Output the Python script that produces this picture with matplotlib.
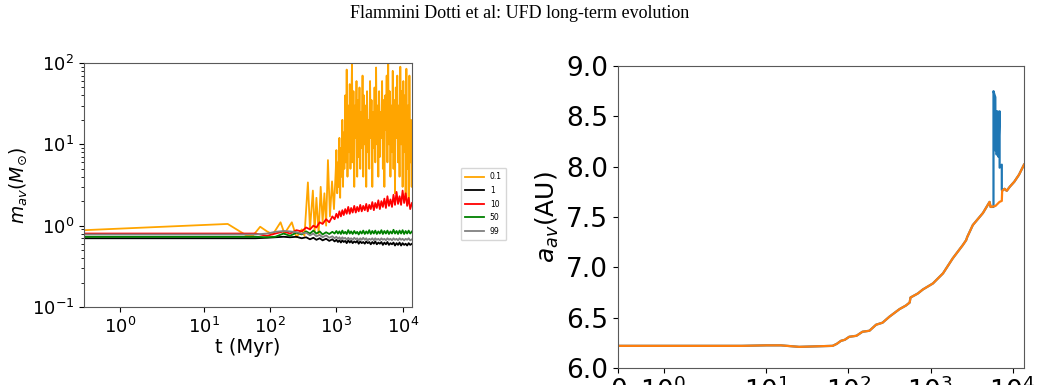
import matplotlib
matplotlib.use("Agg")
import matplotlib.pyplot as plt
from matplotlib.ticker import NullLocator, FormatStrFormatter

# left panel: average mass vs time, one line per mass fraction
t_orange = [0.01, 23, 45, 55, 71, 90, 110, 144, 165, 213, 250, 300, 330, 372, 400, 442, 470, 500,
            540, 580, 620, 660, 700, 746, 800, 860, 920, 980,
            1000, 1030, 1055, 1080, 1110, 1140, 1170, 1200, 1230, 1260,
            1290, 1320, 1360, 1390, 1430, 1470, 1510, 1550, 1590, 1630,
            1670, 1720, 1760, 1810, 1860, 1910, 1960, 2010, 2060, 2120,
            2170, 2230, 2290, 2350, 2410, 2480, 2540, 2610, 2680, 2750,
            2820, 2900, 2970, 3050, 3130, 3220, 3300, 3390, 3480, 3570,
            3670, 3760, 3860, 3970, 4070, 4180, 4290, 4410, 4520, 4640,
            4770, 4890, 5020, 5160, 5290, 5440, 5580, 5730, 5880, 6040,
            6200, 6360, 6530, 6710, 6890, 7070, 7260, 7450, 7650, 7860,
            8070, 8280, 8500, 8730, 8960, 9200, 9450, 9700, 9960, 10220,
            10500, 10780, 11070, 11360, 11660, 11970, 12290, 12620, 12960, 13300,
            13650, 13800]
m_orange = [0.88, 1.05, 0.75, 0.75, 0.97, 0.85, 0.78, 1.1, 0.8, 1.1, 0.72, 0.9, 0.75, 3.4, 0.9,
            2.7, 0.85, 2.2, 0.8, 3.0, 1.1, 2.5, 1.0, 6.4, 1.3, 3.5, 1.6, 5.0,
            8.5, 2.5, 6, 3, 12, 2.2, 9, 4, 20, 3,
            14, 5, 40, 6, 83, 4, 30, 8, 55, 5,
            25, 100, 6, 45, 3, 30, 12, 60, 4, 35,
            7, 50, 5, 25, 9, 70, 4, 40, 10, 30,
            3, 45, 8, 20, 5, 60, 12, 35, 3, 25,
            9, 50, 6, 88, 10, 30, 4, 45, 7, 25,
            12, 60, 5, 35, 3, 40, 15, 70, 6, 100,
            10, 45, 4, 30, 8, 80, 5, 35, 2.5, 50,
            12, 70, 6, 30, 4, 90, 10, 45, 3, 60,
            8, 40, 2.2, 85, 5, 30, 2, 70, 6, 20,
            3, 15]

t_grid = [0.01, 30, 60, 90, 120, 160, 200, 250, 300, 350,
          400, 450, 500, 560, 620, 700, 780, 870, 940,
          1000, 1055, 1110, 1170, 1230, 1290, 1360, 1430, 1510, 1590,
          1670, 1760, 1860, 1960, 2060, 2170, 2290, 2410, 2540, 2680,
          2820, 2970, 3130, 3300, 3480, 3670, 3860, 4070, 4290, 4520,
          4770, 5020, 5290, 5580, 5880, 6200, 6530, 6890, 7260, 7650,
          8070, 8500, 8960, 9450, 9960, 10500, 11070, 11660, 12290, 12960,
          13800]
m_black = [0.70, 0.70, 0.70, 0.71, 0.72, 0.73, 0.72, 0.73, 0.70, 0.72,
           0.68, 0.71, 0.67, 0.70, 0.66, 0.69, 0.65, 0.68, 0.64,
           0.67, 0.63, 0.66, 0.62, 0.66, 0.63, 0.65, 0.61, 0.66, 0.62,
           0.65, 0.61, 0.64, 0.62, 0.65, 0.60, 0.64, 0.61, 0.63, 0.60,
           0.64, 0.61, 0.63, 0.59, 0.63, 0.60, 0.64, 0.59, 0.62, 0.60,
           0.63, 0.58, 0.62, 0.59, 0.63, 0.58, 0.61, 0.59, 0.62, 0.57,
           0.61, 0.58, 0.62, 0.57, 0.61, 0.58, 0.60, 0.57, 0.61, 0.58,
           0.60]
m_red = [0.80, 0.80, 0.80, 0.75, 0.80, 0.85, 0.80, 0.88, 0.85, 0.95,
         0.90, 1.00, 0.95, 1.10, 1.05, 1.20, 1.10, 1.30, 1.20,
         1.40, 1.25, 1.50, 1.30, 1.55, 1.35, 1.60, 1.40, 1.70, 1.40,
         1.65, 1.45, 1.75, 1.45, 1.70, 1.50, 1.80, 1.50, 1.75, 1.55,
         1.85, 1.50, 1.80, 1.60, 1.95, 1.55, 1.90, 1.65, 2.05, 1.60,
         2.00, 1.70, 2.15, 1.65, 2.30, 1.75, 2.10, 1.70, 2.40, 1.80,
         2.60, 1.85, 2.30, 1.80, 2.70, 1.90, 2.50, 1.75, 2.20, 1.60,
         1.90]
m_green = [0.73, 0.73, 0.73, 0.72, 0.73, 0.80, 0.75, 0.82, 0.78, 0.85,
           0.80, 0.87, 0.80, 0.85, 0.78, 0.83, 0.79, 0.84, 0.80,
           0.86, 0.80, 0.85, 0.79, 0.87, 0.80, 0.84, 0.79, 0.88, 0.80,
           0.85, 0.79, 0.86, 0.80, 0.84, 0.78, 0.85, 0.80, 0.87, 0.79,
           0.85, 0.80, 0.88, 0.79, 0.86, 0.80, 0.87, 0.79, 0.85, 0.80,
           0.88, 0.79, 0.86, 0.80, 0.87, 0.79, 0.85, 0.80, 0.89, 0.80,
           0.86, 0.79, 0.87, 0.80, 0.88, 0.79, 0.86, 0.80, 0.87, 0.80,
           0.85]
m_grey = [0.78, 0.78, 0.78, 0.80, 0.84, 0.86, 0.85, 0.83, 0.80, 0.82,
          0.76, 0.80, 0.74, 0.77, 0.72, 0.76, 0.71, 0.74, 0.70,
          0.73, 0.69, 0.72, 0.68, 0.72, 0.69, 0.71, 0.67, 0.71, 0.68,
          0.70, 0.67, 0.71, 0.68, 0.70, 0.66, 0.70, 0.67, 0.71, 0.67,
          0.70, 0.66, 0.69, 0.67, 0.70, 0.66, 0.70, 0.67, 0.69, 0.66,
          0.70, 0.67, 0.69, 0.66, 0.70, 0.67, 0.69, 0.66, 0.70, 0.67,
          0.69, 0.66, 0.70, 0.67, 0.69, 0.66, 0.69, 0.67, 0.70, 0.66,
          0.68]
labels = ['0.1', '1', '10', '50', '99']

# right panel: average semi-major axis vs time
t_a = [0, 1, 5, 10, 15, 25, 40, 64, 72, 81, 90, 102, 125, 148, 180, 217, 260, 316, 419, 500,
       557, 570, 700, 807, 1070, 1420, 1870, 2470, 2720, 2800, 3280, 4360, 5250, 5400, 5500,
       6200, 6940, 7400, 7480, 8000, 8500, 9250, 10500, 12000, 13800]
a_orange = [6.22, 6.22, 6.22, 6.225, 6.225, 6.21, 6.215, 6.22, 6.24, 6.27, 6.28, 6.31, 6.32,
            6.36, 6.37, 6.43, 6.45, 6.51, 6.585, 6.62, 6.65, 6.70, 6.74, 6.78, 6.84, 6.94, 7.09,
            7.22, 7.27, 7.30, 7.42, 7.54, 7.65, 7.60, 7.60, 7.61, 7.65, 7.66, 7.76, 7.78, 7.76,
            7.80, 7.85, 7.92, 8.02]
t_spike = [5860, 5860, 6000, 6170, 6200, 6230, 6300, 6400, 6500, 6580, 6700, 6960, 6960, 7400, 7400]
a_spike = [7.60, 8.75, 8.72, 8.69, 8.16, 8.50, 8.55, 8.12, 8.20, 8.55, 8.10, 8.55, 7.99, 8.02, 7.77]
a_ticks = [6.0, 6.5, 7.0, 7.5, 8.0, 8.5, 9.0]

t_blue = t_a[:35] + t_spike + t_a[38:]
a_blue = a_orange[:35] + a_spike + a_orange[38:]

fig = plt.figure(figsize=(10.4, 3.85), dpi=100)
fig.text(0.5, 1 - 14 / 385, 'Flammini Dotti et al: UFD long-term evolution',
         family='Liberation Serif', fontsize=13, ha='center', va='center')

ax1 = fig.add_axes([84 / 1040, 78 / 385, 328 / 1040, 244 / 385])
lines = []
lines += ax1.plot(t_orange, m_orange, color='orange', lw=1.3)
lines += ax1.plot(t_grid, m_black, color='black', lw=1.3)
lines += ax1.plot(t_grid, m_red, color='red', lw=1.3)
lines += ax1.plot(t_grid, m_green, color='green', lw=1.3)
lines += ax1.plot(t_grid, m_grey, color='grey', lw=1.3)
ax1.set_xscale('symlog', linthresh=2)
ax1.set_yscale('log')
ax1.set_xlim(0.01, 13800)
ax1.set_ylim(0.1, 100)
ax1.set_xticks([1, 10, 100, 1000, 10000])
ax1.xaxis.set_minor_locator(NullLocator())
ax1.tick_params(labelsize=13)
ax1.set_xlabel('t (Myr)', fontsize=14, labelpad=1)
ax1.set_ylabel(r'$m_{av}(M_{\odot})$', fontsize=13.5, labelpad=2)

fig.legend(lines, labels, loc='upper left', bbox_to_anchor=(457 / 1040, 1 - 164 / 385),
           fontsize=5.5, handlelength=2.4, borderpad=0.6, labelspacing=0.6)

ax2 = fig.add_axes([618 / 1040, 17 / 385, 406 / 1040, 302 / 385])
ax2.plot(t_blue, a_blue, color='C0', lw=1.6)
ax2.plot(t_a, a_orange, color='C1', lw=1.6)
ax2.set_xscale('symlog', linthresh=2)
ax2.set_xlim(0, 13800)
ax2.set_ylim(6.0, 9.0)
ax2.set_xticks([0, 1, 10, 100, 1000, 10000])
ax2.set_yticks(a_ticks)
ax2.xaxis.set_minor_locator(NullLocator())
ax2.yaxis.set_major_formatter(FormatStrFormatter('%.1f'))
ax2.tick_params(labelsize=19)
ax2.set_ylabel(r'$a_{av}$(AU)', fontsize=18, labelpad=4)

for ax in (ax1, ax2):
    for sp in ax.spines.values():
        sp.set_color('0.35')

fig.savefig('out.png', dpi=100)
